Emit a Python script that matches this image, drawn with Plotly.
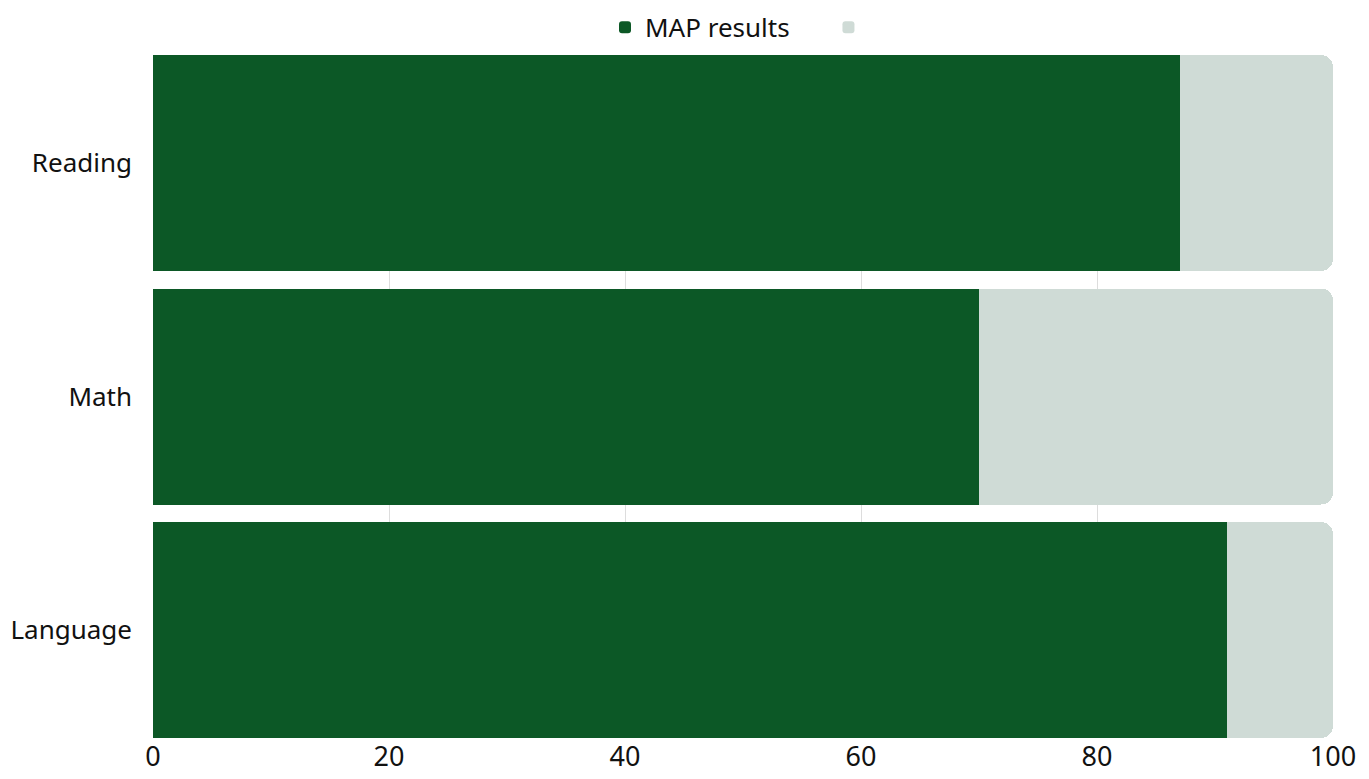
import plotly.graph_objects as go

categories = ["Reading", "Math", "Language"]
map_results = [87, 70, 91]
remainder = [13, 30, 9]
x_ticks = [0, 20, 40, 60, 80, 100]

GREEN = "#0c5826"
GREY = "#cfdbd6"
GAP = 0.075

fig = go.Figure()
fig.add_trace(go.Bar(y=categories, x=map_results, orientation="h",
                     name="MAP results\u00a0\u00a0\u00a0\u00a0\u00a0",
                     marker=dict(color=GREEN, line=dict(width=0))))
fig.add_trace(go.Bar(y=categories, x=remainder, orientation="h", name=" ",
                     marker=dict(color=GREY, line=dict(width=0))))

fig.update_layout(
    width=1361, height=771,
    barmode="stack", bargap=GAP, barcornerradius=12,
    plot_bgcolor="white", paper_bgcolor="white",
    margin=dict(l=145, r=36, t=47, b=41, autoexpand=False),
    font=dict(family="Noto Sans", size=27, color="#111111"),
    legend=dict(orientation="h", x=0.5, xanchor="center", y=1.006, yanchor="bottom",
                font=dict(size=26), traceorder="normal", itemwidth=30),
    xaxis=dict(range=[0, 100], tickvals=x_ticks, showgrid=True, gridcolor="#dddddd",
               gridwidth=1, zeroline=False, tickfont=dict(size=27), ticks="",
               showline=False, automargin=False),
    yaxis=dict(range=[2.5 - GAP / 2, -0.5 + GAP / 2], ticks="", showgrid=False,
               tickfont=dict(size=26), ticklabelstandoff=20, automargin=False),
)
fig.write_html("out.html")
